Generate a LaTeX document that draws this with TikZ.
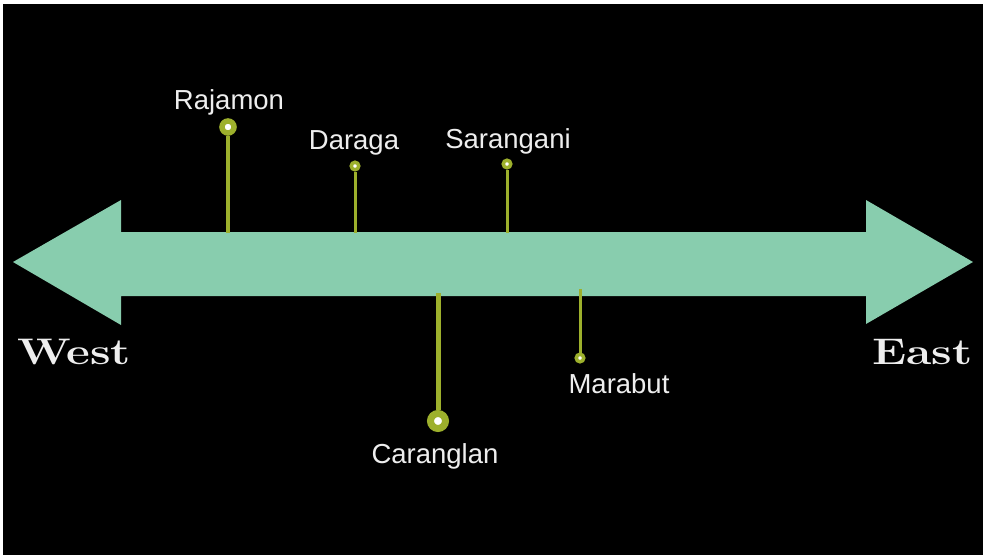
\documentclass[tikz,border=0pt]{standalone}
\usepackage{fontspec}
\setmainfont{Latin Modern Roman}
\newfontfamily\labelfont{Liberation Sans}
\definecolor{mint}{HTML}{88CDAE}
\definecolor{olive}{HTML}{9DB02C}
\definecolor{txt}{HTML}{EEEEEE}
\begin{document}
\begin{tikzpicture}[x=1pt,y=-1pt,
  lbl/.style={anchor=base,text=txt,font=\labelfont\fontsize{27.5}{31}\selectfont,inner sep=0},
  dir/.style={anchor=base west,text=txt,font=\bfseries\fontsize{37}{40}\selectfont,inner sep=0},
  bigdot/.style={circle,draw=olive,fill=white,line width=5.5pt,minimum size=12pt,inner sep=0},
  hugedot/.style={circle,draw=olive,fill=white,line width=7pt,minimum size=15pt,inner sep=0},
  smalldot/.style={circle,draw=olive,fill=white,line width=3.5pt,minimum size=7.5pt,inner sep=0},
  stem/.style={draw=olive,line width=#1}]
\fill[white] (0,0) rectangle (986,555);
\useasboundingbox (0,0) rectangle (986,555);
\fill[black] (3,4) rectangle (983,555);
\coordinate (sR) at (228,233);
\coordinate (sD) at (355,233);
\coordinate (sS) at (507,233);
\coordinate (sC) at (438,293);
\coordinate (sM) at (580,289);
% double arrow
\fill[mint] (13,262) -- (121,200) -- (121,232) -- (866,232) -- (866,200) -- (973,262)
  -- (866,324) -- (866,296) -- (121,296) -- (121,325) -- cycle;
% dots
\node[bigdot] (dR) at (228,127) {};
\node[smalldot] (dD) at (355,166) {};
\node[smalldot] (dS) at (507,164) {};
\node[hugedot] (dC) at (438,421) {};
\node[smalldot] (dM) at (580,358) {};
\draw[stem=4pt] (sR) -- (dR);
\draw[stem=3pt] (sD) -- (dD);
\draw[stem=3pt] (sS) -- (dS);
\draw[stem=5pt] (sC) -- (dC);
\draw[stem=3pt] (sM) -- (dM);
% labels
\node[lbl] (lR) at (229,109) {Rajamon};
\node[lbl] (lD) at (354,149) {Daraga};
\node[lbl] (lS) at (508,148) {Sarangani};
\node[lbl] (lC) at (435,463) {Caranglan};
\node[lbl] (lM) at (619,393) {Marabut};
\node[dir] (west) at (17,364) {\scalebox{1.25}[1]{West}};
\node[dir] (east) at (872,364) {\scalebox{1.25}[1]{East}};
\end{tikzpicture}
\end{document}
